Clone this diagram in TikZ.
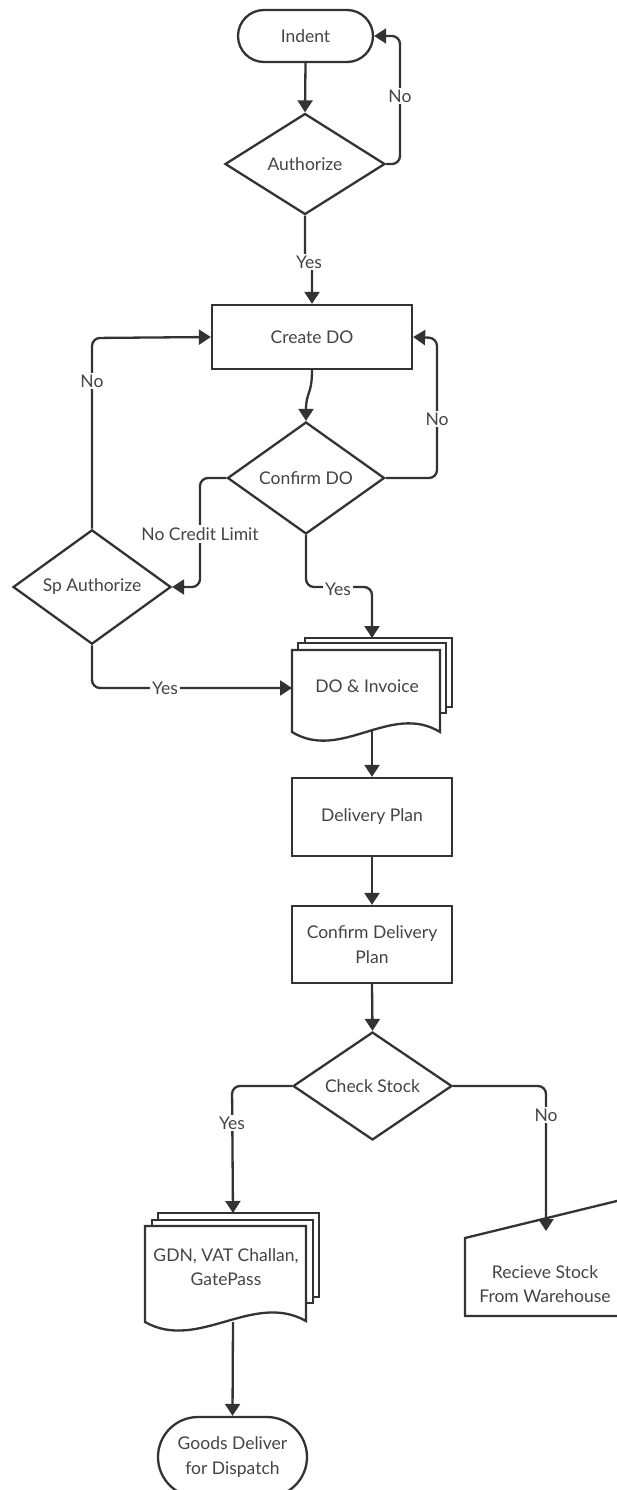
\documentclass[tikz,border=0pt]{standalone}
\usepackage{fontspec}
\setmainfont{Lato}
\usetikzlibrary{shapes.geometric,shapes.misc,arrows.meta}
\definecolor{ln}{HTML}{333333}
\definecolor{tx}{HTML}{444444}
\begin{document}
\begin{tikzpicture}[x=1pt,y=-1pt, font=\fontsize{17.5}{24.5}\selectfont,
  conn/.style={draw=ln,line width=2.3pt,rounded corners=8pt,-{Triangle[width=15pt,length=12pt]}},
  shp/.style={draw=ln,line width=2.3pt,fill=white},
  box/.style={rectangle,draw=ln,line width=2.3pt,fill=white,inner sep=0pt,align=center,text=tx},
  dia/.style={diamond,draw=ln,line width=2.3pt,fill=white,inner sep=0pt,align=center,text=tx},
  term/.style={rounded rectangle,draw=ln,line width=2.3pt,fill=white,inner sep=0pt,align=center,text=tx},
  lbl/.style={fill=white,inner sep=2pt,text=tx},
  txt/.style={inner sep=0pt,align=center,text=tx}]
\useasboundingbox (0,0) rectangle (616,1490);
\fill[white] (0,0) rectangle (616,1490);

% nodes
\node[term,minimum width=135,minimum height=52] (indent) at (305.5,36) {Indent};
\node[dia,minimum width=160,minimum height=101] (auth) at (305,164) {Authorize};
\node[box,minimum width=200,minimum height=64] (cdo) at (312,337) {Create DO};
\node[dia,minimum width=157,minimum height=112] (cfdo) at (306,478) {Confirm DO};
\node[dia,minimum width=158,minimum height=101] (spa) at (92,587) {Sp Authorize};

% DO & Invoice (multi-document)
\draw[shp] (305,638) rectangle (452,707);
\draw[shp] (298,643) rectangle (446,713);
\draw[shp] (292,650) -- (440,650) -- (440,732) .. controls (391,702) and (341,762) .. (292,732) -- cycle;
\node[txt] (doi) at (367,686) {DO \& Invoice};
\coordinate (doitop) at (372,638);
\coordinate (doileft) at (292,688);
\coordinate (doibot) at (372,729);

\node[box,minimum width=160,minimum height=78] (dp) at (372,817) {Delivery Plan};
\node[box,minimum width=160,minimum height=77] (cdp) at (372,944.5) {Confirm Delivery\\Plan};
\node[dia,minimum width=159,minimum height=102] (cs) at (372.5,1086) {Check Stock};

% GDN (multi-document)
\draw[shp] (158,1213) rectangle (319,1297);
\draw[shp] (152,1220) rectangle (313,1303);
\draw[shp] (145,1226) -- (306,1226) -- (306,1321) .. controls (253,1291) and (198,1352) .. (145,1322) -- cycle;
\node[txt] (gdn) at (226,1267) {GDN, VAT Challan,\\GatePass};
\coordinate (gdntop) at (233,1213);
\coordinate (gdnbot) at (233,1322);

% Receive stock (manual input)
\draw[shp] (465,1238) -- (625,1199) -- (625,1316) -- (465,1316) -- cycle;
\node[txt] (rs) at (545,1284) {Recieve Stock\\From Warehouse};
\coordinate (rstop) at (546,1231);

\node[term,minimum width=149,minimum height=80] (gd) at (232.5,1457) {Goods Deliver\\for Dispatch};

% connectors
\draw[conn] (indent.south) -- (auth.north);
\draw[conn] (auth.east) -- (400,164) -- (400,36) -- (indent.east);
\node[lbl] at (400,96) {No};
\draw[conn] (auth.south) -- (305,262) -- (312,262) -- (cdo.north);
\node[lbl] at (309,262) {Yes};
\draw[conn] (cdo.south) .. controls (312,395) and (306,392) .. (cfdo.north);
\draw[conn] (cfdo.east) -- (437,478) -- (437,338) -- (cdo.east);
\node[lbl] at (437,419) {No};
\draw[conn] (cfdo.west) -- (200,478) -- (200,587) -- (spa.east);
\node[lbl] at (200,534) {No Credit Limit};
\draw[conn] (spa.north) -- (92,338) -- (cdo.west);
\node[lbl] at (92,381) {No};
\draw[conn] (spa.south) -- (92,688) -- (doileft);
\node[lbl] at (165,688) {Yes};
\draw[conn] (cfdo.south) -- (306,587) -- (372,587) -- (doitop);
\node[lbl] at (338,589) {Yes};
\draw[conn] (doibot) -- (dp.north);
\draw[conn] (dp.south) -- (cdp.north);
\draw[conn] (cdp.south) -- (cs.north);
\draw[conn] (cs.west) -- (232,1086) -- (gdntop);
\node[lbl] at (232,1123) {Yes};
\draw[conn] (cs.east) -- (546,1086) -- (rstop);
\node[lbl] at (546,1115) {No};
\draw[conn] (gdnbot) -- (gd.north);
\end{tikzpicture}
\end{document}
